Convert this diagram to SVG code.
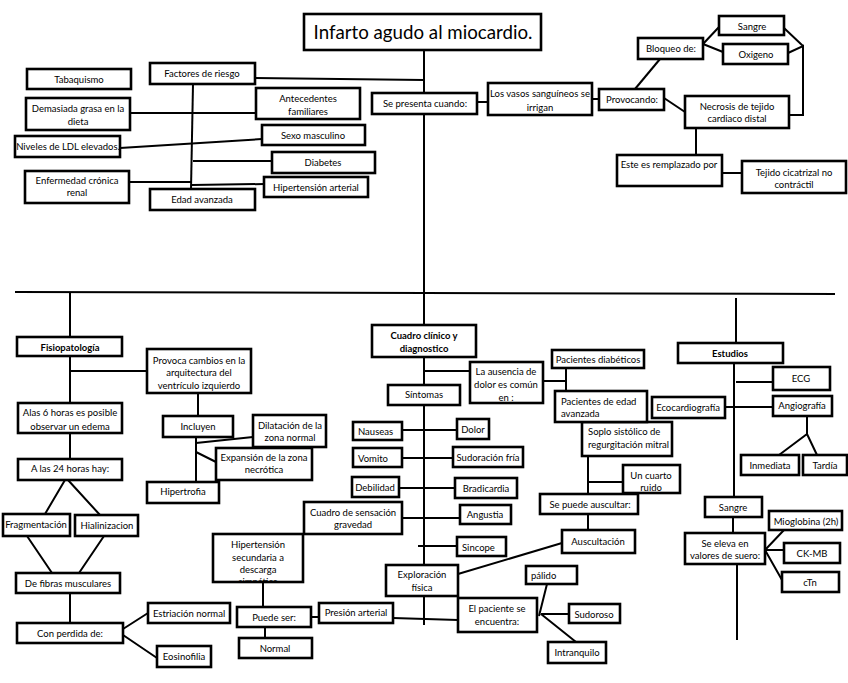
<svg xmlns="http://www.w3.org/2000/svg" width="848" height="683" viewBox="0 0 848 683">
<style>
.n rect{fill:#fff;stroke:#000;stroke-width:2.6}
.n text{font-family:Lato,"Liberation Sans",sans-serif;font-size:9.5px;fill:#000;text-anchor:middle}
.n text.s{text-anchor:start}
.n text.b{font-weight:bold}
#conn path{stroke:#000;stroke-width:2;fill:none}
</style>
<defs>
<clipPath id="hclip"><rect x="214" y="535" width="88" height="46"/></clipPath>
</defs>
<rect x="0" y="0" width="848" height="683" fill="#fff"/>
<g id="conn">
<path d="M424,50 V93"/>
<path d="M255,78 L424,80"/>
<path d="M193,84 L191,189"/>
<path d="M130,113 H256"/>
<path d="M120,148 L262,139"/>
<path d="M193,161 H272"/>
<path d="M129,182 H192"/>
<path d="M192,185 L264,184"/>
<path d="M424,114 V325"/>
<path d="M477,102 H488"/>
<path d="M592,99 H599"/>
<path d="M635,89 L660,59"/>
<path d="M703,44 L719,27 M703,44 L723,52"/>
<path d="M784,28 L803,46 M788,53 L803,46 V115 H789"/>
<path d="M664,98 L685,112"/>
<path d="M696,128 V155"/>
<path d="M722,173 H742"/>
<path d="M15,292 L835,294"/>
<path d="M70,293 V337"/>
<path d="M736,298 V343"/>
<path d="M70,356 V403"/>
<path d="M70,371 H147"/>
<path d="M70,433 V459"/>
<path d="M198,393 V416"/>
<path d="M196,437 V482"/>
<path d="M196,443 L253,437"/>
<path d="M196,452 L216,462"/>
<path d="M65,480 L45,514 M68,480 L100,515"/>
<path d="M27,536 L52,573 M104,536 L79,573"/>
<path d="M70,593 V623"/>
<path d="M123,629 L148,613 M123,635 L157,658"/>
<path d="M424,357 V385"/>
<path d="M424,371 H470"/>
<path d="M424,405 V565"/>
<path d="M402,430 H457"/>
<path d="M402,458 H453"/>
<path d="M399,488 H455"/>
<path d="M402,518 H460"/>
<path d="M418,546 H457"/>
<path d="M458,574 L562,543"/>
<path d="M588,514 V530"/>
<path d="M263,582 V607"/>
<path d="M265,627 V638"/>
<path d="M311,617 H319"/>
<path d="M393,618 L458,620"/>
<path d="M424,596 V625"/>
<path d="M547,584 L539,616 M541,614 H569 M541,614 L576,642"/>
<path d="M566,368 V391"/>
<path d="M543,381 H566"/>
<path d="M588,456 V494"/>
<path d="M588,482 H623"/>
<path d="M734,363 V497"/>
<path d="M736,382 H773"/>
<path d="M725,407 H773"/>
<path d="M807,416 V434 L779,455 M807,434 L817,455"/>
<path d="M733,517 V533"/>
<path d="M765,550 L784,530 M765,550 H784 M765,550 L782,580"/>
<path d="M737,564 V640"/>
</g>

<g id="title" class="n"><rect x="304" y="14" width="237" height="36"/><text x="423" y="39" style="font-size:18.7px">Infarto agudo al miocardio.</text></g>
<g id="tabaquismo" class="n"><rect x="27" y="69" width="104" height="20"/><text x="79" y="82.5">Tabaquismo</text></g>
<g id="factores" class="n"><rect x="150" y="63" width="105" height="21"/><text x="202" y="76.5">Factores de riesgo</text></g>
<g id="demasiada" class="n"><rect x="26" y="98" width="104" height="32"/><text x="78" y="112">Demasiada grasa en la</text><text x="78" y="124.5">dieta</text></g>
<g id="antecedentes" class="n"><rect x="256" y="88" width="104" height="31"/><text x="308" y="102">Antecedentes</text><text x="308" y="114.5">familiares</text></g>
<g id="niveles" class="n"><rect x="15" y="136" width="105" height="21"/><text x="68" y="149.5">Niveles de LDL elevados.</text></g>
<g id="sexo" class="n"><rect x="262" y="125" width="103" height="20"/><text x="313" y="138.5">Sexo masculino</text></g>
<g id="diabetes" class="n"><rect x="272" y="152" width="103" height="21"/><text x="323" y="165.5">Diabetes</text></g>
<g id="enfermedad" class="n"><rect x="25" y="171" width="104" height="32"/><text x="77" y="183.5">Enfermedad crónica</text><text x="77" y="196">renal</text></g>
<g id="hipertension-arterial" class="n"><rect x="264" y="177" width="104" height="20"/><text x="316" y="190.5">Hipertensión arterial</text></g>
<g id="edad" class="n"><rect x="150" y="189" width="105" height="21"/><text x="202" y="203">Edad avanzada</text></g>
<g id="se-presenta" class="n"><rect x="372" y="93" width="105" height="21"/><text x="425" y="106.5">Se presenta cuando:</text></g>
<g id="vasos" class="n"><rect x="488" y="83" width="104" height="32"/><text x="540" y="96.5">Los vasos sanguíneos se</text><text x="540" y="110.5">irrigan</text></g>
<g id="provocando" class="n"><rect x="599" y="89" width="65" height="21"/><text x="632" y="103">Provocando:</text></g>
<g id="bloqueo" class="n"><rect x="638" y="38" width="65" height="21"/><text x="671" y="52">Bloqueo de:</text></g>
<g id="sangre1" class="n"><rect x="719" y="16" width="65" height="19"/><text x="752" y="29.5">Sangre</text></g>
<g id="oxigeno" class="n"><rect x="723" y="44" width="65" height="20"/><text x="756" y="57.5">Oxigeno</text></g>
<g id="necrosis" class="n"><rect x="685" y="96" width="104" height="32"/><text x="737" y="109.5">Necrosis de tejido</text><text x="737" y="122">cardiaco distal</text></g>
<g id="este" class="n"><rect x="617" y="155" width="105" height="31"/><text x="669" y="168">Este es remplazado por</text></g>
<g id="tejido" class="n"><rect x="742" y="161" width="104" height="32"/><text x="794" y="175.5">Tejido cicatrizal no</text><text x="794" y="188">contráctil</text></g>

<g id="fisiopatologia" class="n"><rect x="17" y="337" width="105" height="19"/><text class="b" x="70" y="350.5">Fisiopatología</text></g>
<g id="provoca" class="n"><rect x="147" y="349" width="104" height="44"/><text x="199" y="363.5">Provoca cambios en la</text><text x="199" y="376">arquitectura del</text><text x="199" y="388.5">ventrículo izquierdo</text></g>
<g id="alas6" class="n"><rect x="18" y="403" width="104" height="30"/><text x="70" y="415.5">Alas 6 horas es posible</text><text x="70" y="429.5">observar un edema</text></g>
<g id="a24" class="n"><rect x="18" y="459" width="104" height="21"/><text x="70" y="472">A las 24 horas hay:</text></g>
<g id="incluyen" class="n"><rect x="163" y="416" width="70" height="21"/><text x="198" y="429.5">Incluyen</text></g>
<g id="dilatacion" class="n"><rect x="253" y="415" width="73" height="32"/><text x="290" y="428.5">Dilatación de la</text><text x="290" y="440.5">zona normal</text></g>
<g id="expansion" class="n"><rect x="216" y="448" width="96" height="32"/><text x="264" y="460.5">Expansión de la zona</text><text x="264" y="473">necrótica</text></g>
<g id="hipertrofia" class="n"><rect x="147" y="482" width="72" height="21"/><text x="183" y="495">Hipertrofia</text></g>
<g id="fragmentacion" class="n"><rect x="3" y="514" width="67" height="22"/><text x="36" y="528">Fragmentación</text></g>
<g id="hialinizacion" class="n"><rect x="75" y="515" width="63" height="21"/><text x="107" y="528.5">Hialinizacion</text></g>
<g id="fibras" class="n"><rect x="16" y="573" width="104" height="20"/><text x="68" y="586.5">De fibras musculares</text></g>
<g id="perdida" class="n"><rect x="17" y="623" width="106" height="20"/><text x="70" y="636.5">Con perdida de:</text></g>
<g id="estriacion" class="n"><rect x="148" y="603" width="82" height="20"/><text x="189" y="616.5">Estriación normal</text></g>
<g id="eosinofilia" class="n"><rect x="157" y="646" width="54" height="21"/><text x="184" y="660">Eosinofilia</text></g>

<g id="cuadro" class="n"><rect x="372" y="325" width="104" height="32"/><text class="b" x="424" y="338.5">Cuadro clínico y</text><text class="b" x="424" y="351.5">diagnostico</text></g>
<g id="ausencia" class="n"><rect x="470" y="362" width="73" height="41"/><text x="506" y="375">La ausencia de</text><text x="506" y="387.5">dolor es común</text><text x="506" y="401">en :</text></g>
<g id="sintomas" class="n"><rect x="388" y="385" width="72" height="20"/><text x="424" y="398">Síntomas</text></g>
<g id="nauseas" class="n"><rect x="353" y="422" width="49" height="18"/><text class="s" x="358" y="434.5">Nauseas</text></g>
<g id="dolor" class="n"><rect x="457" y="419" width="32" height="20"/><text x="473" y="432.5">Dolor</text></g>
<g id="vomito" class="n"><rect x="353" y="448" width="49" height="19"/><text class="s" x="358" y="461.5">Vomito</text></g>
<g id="sudoracion" class="n"><rect x="453" y="447" width="70" height="20"/><text x="488" y="460.5">Sudoración fría</text></g>
<g id="debilidad" class="n"><rect x="352" y="477" width="47" height="20"/><text x="375" y="490.5">Debilidad</text></g>
<g id="bradicardia" class="n"><rect x="455" y="478" width="62" height="20"/><text x="486" y="492">Bradicardia</text></g>
<g id="angustia" class="n"><rect x="460" y="505" width="51" height="19"/><text x="485" y="518">Angustia</text></g>
<g id="sensacion" class="n"><rect x="304" y="502" width="98" height="32"/><text x="353" y="515.5">Cuadro de sensación</text><text x="353" y="527.5">gravedad</text></g>
<g id="sincope" class="n"><rect x="457" y="537" width="49" height="19"/><text class="s" x="462" y="550.5">Sincope</text></g>
<g id="exploracion" class="n"><rect x="386" y="565" width="72" height="31"/><text x="422" y="577.5">Exploración</text><text x="422" y="590.5">física</text></g>
<g id="hip-secundaria" class="n"><rect x="213" y="534" width="90" height="48"/><g clip-path="url(#hclip)"><text x="258" y="547.5">Hipertensión</text><text x="258" y="560.5">secundaria a</text><text x="258" y="572.5">descarga</text><text x="258" y="585">simpática</text></g></g>
<g id="puede-ser" class="n"><rect x="237" y="607" width="74" height="20"/><text x="274" y="620.5">Puede ser:</text></g>
<g id="normal" class="n"><rect x="239" y="638" width="73" height="20"/><text x="275" y="651.5">Normal</text></g>
<g id="presion" class="n"><rect x="319" y="603" width="74" height="20"/><text x="356" y="615.5">Presión arterial</text></g>
<g id="paciente" class="n"><rect x="458" y="598" width="79" height="34"/><text x="497" y="611.5">El paciente se</text><text x="497" y="624.5">encuentra:</text></g>
<g id="palido" class="n"><rect x="526" y="566" width="51" height="18"/><text class="s" x="531" y="579">pálido</text></g>
<g id="sudoroso" class="n"><rect x="569" y="604" width="51" height="19"/><text x="594" y="617.5">Sudoroso</text></g>
<g id="intranquilo" class="n"><rect x="548" y="642" width="58" height="21"/><text x="577" y="655.5">Intranquilo</text></g>
<g id="auscultacion" class="n"><rect x="562" y="530" width="73" height="23"/><text x="598" y="544.5">Auscultación</text></g>
<g id="se-puede" class="n"><rect x="540" y="494" width="98" height="20"/><text x="590" y="507.5">Se puede auscultar:</text></g>
<g id="cuarto" class="n"><rect x="623" y="465" width="57" height="28"/><text x="651" y="478.5">Un cuarto</text><text x="651" y="490.5">ruido</text></g>
<g id="soplo" class="n"><rect x="582" y="422" width="90" height="34"/><text class="s" x="588" y="434.5">Soplo sistólico de</text><text class="s" x="588" y="447.5">regurgitación mitral</text></g>
<g id="pac-edad" class="n"><rect x="555" y="391" width="92" height="31"/><text class="s" x="561" y="404.5">Pacientes de edad</text><text class="s" x="561" y="416.5">avanzada</text></g>
<g id="pac-diabeticos" class="n"><rect x="552" y="350" width="92" height="18"/><text x="598" y="362.5">Pacientes diabéticos</text></g>

<g id="estudios" class="n"><rect x="678" y="343" width="105" height="20"/><text class="b" x="730" y="356.5">Estudios</text></g>
<g id="ecg" class="n"><rect x="773" y="367" width="57" height="23"/><text x="801" y="381.5">ECG</text></g>
<g id="ecocardiografia" class="n"><rect x="652" y="397" width="73" height="21"/><text x="688" y="410.5">Ecocardiografía</text></g>
<g id="angiografia" class="n"><rect x="773" y="396" width="59" height="20"/><text x="802" y="409">Angiografía</text></g>
<g id="inmediata" class="n"><rect x="741" y="455" width="58" height="20"/><text x="770" y="468.5">Inmediata</text></g>
<g id="tardia" class="n"><rect x="803" y="455" width="44" height="20"/><text x="825" y="468.5">Tardía</text></g>
<g id="sangre2" class="n"><rect x="705" y="497" width="57" height="20"/><text x="733" y="510.5">Sangre</text></g>
<g id="se-eleva" class="n"><rect x="685" y="533" width="80" height="31"/><text x="725" y="546.5">Se eleva en</text><text x="725" y="558.5">valores de suero:</text></g>
<g id="mioglobina" class="n"><rect x="769" y="511" width="73" height="19"/><text x="806" y="524.5">Mioglobina (2h)</text></g>
<g id="ckmb" class="n"><rect x="784" y="543" width="56" height="20"/><text x="812" y="556.5">CK-MB</text></g>
<g id="ctn" class="n"><rect x="782" y="572" width="57" height="20"/><text x="810" y="585.5">cTn</text></g>
</svg>
